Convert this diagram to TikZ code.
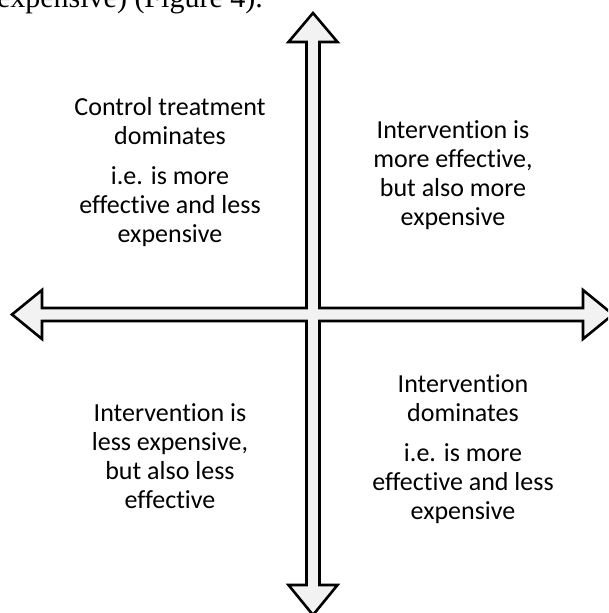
\documentclass[tikz,border=0pt]{standalone}
\usepackage{fontspec}
\setmainfont{Carlito}[RawFeature={-liga;-clig;-dlig}]
\newfontfamily\timesfont{Liberation Serif}
\definecolor{arrowfill}{RGB}{242,242,242}
\begin{document}
\begin{tikzpicture}[x=1pt,y=-1pt,
  quad/.style={align=center,inner sep=0pt,font=\fontsize{26}{29}\selectfont},
  crossarrow/.style={draw=black,fill=arrowfill,line width=2.6pt,line join=miter}]
\useasboundingbox (0,0) rectangle (608,613);
\clip (0,0) rectangle (608,613);
\draw[crossarrow]
  (313,13) -- (337.5,42) -- (319.5,42) -- (319.5,308) -- (583,308) -- (583,290)
  -- (613,314.5) -- (583,339) -- (583,321) -- (319.5,321) -- (319.5,585)
  -- (337.5,585) -- (313,615) -- (288.5,585) -- (306.5,585) -- (306.5,321)
  -- (42,321) -- (42,339) -- (12,314.5) -- (42,290) -- (42,308) -- (306.5,308)
  -- (306.5,42) -- (288.5,42) -- cycle;
\node[anchor=base east,inner sep=0pt,font=\timesfont\fontsize{30}{32}\selectfont] (cap) at (263,8) {expensive) (Figure 4).};
\node[quad] (tl) at (170,172) {Control treatment\\dominates\\[11pt]i.e. is more\\effective and less\\expensive};
\node[quad] (tr) at (453,175) {Intervention is\\more effective,\\but also more\\expensive};
\node[quad] (bl) at (170,456) {Intervention is\\less expensive,\\but also less\\effective};
\node[quad] (br) at (463,449) {Intervention\\dominates\\[11pt]i.e. is more\\effective and less\\expensive};
\end{tikzpicture}
\end{document}
